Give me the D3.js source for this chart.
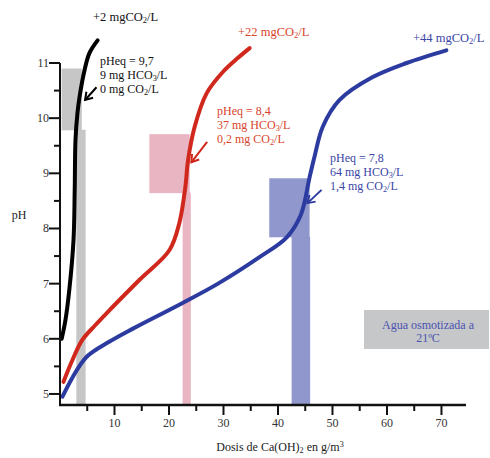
<!DOCTYPE html>
<html>
<head>
<meta charset="utf-8">
<script src="https://cdn.jsdelivr.net/npm/d3@7"></script>
<style>
  html, body { margin: 0; padding: 0; background: #fff; }
  svg { display: block; font-family: "Liberation Serif", "Times New Roman", serif; }
</style>
</head>
<body>
<div id="chart"></div>
<script>
// Titration curves: pH vs. Ca(OH)2 dose for osmotized water with added CO2
const xTicks = [10, 20, 30, 40, 50, 60, 70];
const xMinorTicks = [5, 15, 25, 35, 45, 55, 65];
const yTicks = [5, 6, 7, 8, 9, 10, 11];
const yMinorTicks = [5.5, 6.5, 7.5, 8.5, 9.5, 10.5];

// dose (g/m3), pH
const curve2 = [[0.3, 6.0], [1.0, 6.34], [1.7, 6.88], [2.48, 7.79], [2.7, 8.7], [2.84, 9.6],
  [3.2, 10.09], [3.58, 10.38], [4.5, 10.87], [5.4, 11.18], [6.9, 11.41]];
const curve22 = [[0.64, 5.22], [2.3, 5.62], [4.1, 5.98], [6.5, 6.25], [9.1, 6.52], [14.6, 7.07],
  [20.1, 7.61], [21.9, 8.1], [23.0, 8.75], [23.5, 9.24], [24.7, 9.84], [26.9, 10.45],
  [30.0, 10.85], [32.5, 11.08], [34.8, 11.27]];
const curve44 = [[0.45, 4.95], [2.3, 5.3], [4.86, 5.67], [9.1, 5.95], [13.3, 6.18], [22.5, 6.65],
  [29, 7.0], [36.6, 7.48], [41.6, 7.84], [44.2, 8.25], [45.8, 8.93], [46.7, 9.3], [48.2, 9.84],
  [51.3, 10.33], [57.3, 10.74], [63.6, 11.0], [70.9, 11.23]];

// equilibrium zones: [x0, x1, pHtop, pHbottom] for the box and [x0, x1] for the strip down to the axis
const zoneBoxes = [[0.3, 4.0, 10.9, 9.78], [16.4, 23.8, 9.71, 8.64], [38.4, 45.8, 8.91, 7.84]];
const zoneStrips = [[3.0, 4.7], [22.5, 24.0], [42.5, 45.9]];

// arrows: [xFrom, pHFrom, xTo, pHTo]
const arrows = [[6.7, 10.56, 4.6, 10.33], [27.0, 9.57, 24.1, 9.2], [48.0, 8.70, 45.4, 8.46]];

const eqLabels = [
  ["pHeq = 9,7", "9 mg HCO3/L", "0 mg CO2/L"],
  ["pHeq = 8,4", "37 mg HCO3/L", "0,2 mg CO2/L"],
  ["pHeq = 7,8", "64 mg HCO3/L", "1,4 mg CO2/L"]
];
const co2Labels = ["+2 mgCO2/L", "+22 mgCO2/L", "+44 mgCO2/L"];

const curveColors = ["#000000", "#d0281c", "#2c3b9f"];
const textColors = ["#111111", "#d8452c", "#3a45a6"];
const zoneColors = ["#c6c6c6", "#e9b5c2", "#9097cd"];

const W = 490, H = 458;
const svg = d3.select("#chart").append("svg").attr("width", W).attr("height", H);

const x = d3.scaleLinear().domain([0, 74.5]).range([60, 466]);
const y = d3.scaleLinear().domain([4.8, 11]).range([405, 63]);

// zones
zoneBoxes.forEach((b, i) => {
  svg.append("rect")
    .attr("x", x(b[0])).attr("y", y(b[2]))
    .attr("width", x(b[1]) - x(b[0])).attr("height", y(b[3]) - y(b[2]))
    .attr("fill", zoneColors[i]);
  const s = zoneStrips[i];
  svg.append("rect")
    .attr("x", x(s[0])).attr("y", y(b[3]) - 0.5)
    .attr("width", x(s[1]) - x(s[0])).attr("height", y(4.8) - y(b[3]) + 0.5)
    .attr("fill", zoneColors[i]);
});

// legend box
svg.append("rect").attr("x", 364).attr("y", 310).attr("width", 125).attr("height", 39).attr("fill", "#c6c7c9");
svg.append("text").attr("x", 428).attr("y", 329).attr("text-anchor", "middle")
  .attr("font-size", 12).attr("fill", "#4a52b0").text("Agua osmotizada a");
svg.append("text").attr("x", 428).attr("y", 342).attr("text-anchor", "middle")
  .attr("font-size", 12).attr("fill", "#4a52b0").text("21ºC");

// curves
const line = d3.line().x(d => x(d[0])).y(d => y(d[1])).curve(d3.curveCatmullRom.alpha(0.5));
[curve2, curve22, curve44].forEach((c, i) => {
  svg.append("path").attr("d", line(c)).attr("fill", "none")
    .attr("stroke", curveColors[i]).attr("stroke-width", 4).attr("stroke-linecap", "round");
});

// arrows
const defs = svg.append("defs");
curveColors.forEach((col, i) => {
  defs.append("marker").attr("id", "ah" + i)
    .attr("viewBox", "-1 -6 10 12").attr("refX", 7).attr("refY", 0)
    .attr("markerWidth", 10).attr("markerHeight", 12).attr("markerUnits", "userSpaceOnUse")
    .attr("orient", "auto")
    .append("path").attr("d", "M0,-4.5 L7,0 L0,4.5").attr("fill", "none")
    .attr("stroke", col).attr("stroke-width", 2);
});
arrows.forEach((a, i) => {
  svg.append("line")
    .attr("x1", x(a[0])).attr("y1", y(a[1])).attr("x2", x(a[2])).attr("y2", y(a[3]))
    .attr("stroke", curveColors[i]).attr("stroke-width", 2)
    .attr("marker-end", "url(#ah" + i + ")");
});

// text with chemical subscripts (digit after CO / (OH)) and the superscript 3 in m3
function chemText(sel, str, sub) {
  const parts = str.split(/(CO\d|\(OH\)\d|m\d$)/).filter(p => p);
  let pending = 0;
  parts.forEach(p => {
    const m = p.match(/^(CO|\(OH\)|m)(\d)$/);
    if (m) {
      const shift = m[1] === "m" ? -4 : sub;
      const base = sel.append("tspan").text(m[1]);
      if (pending) base.attr("dy", pending);
      sel.append("tspan").attr("font-size", "0.68em").attr("dy", shift).text(m[2]);
      pending = -shift;
    } else {
      const t = sel.append("tspan").text(p);
      if (pending) t.attr("dy", pending);
      pending = 0;
    }
  });
}

// equilibrium annotations
const eqPos = [[100, 65], [217, 115], [330, 162]];
eqLabels.forEach((lines, i) => {
  lines.forEach((t, j) => {
    const tx = svg.append("text").attr("x", eqPos[i][0]).attr("y", eqPos[i][1] + j * 14)
      .attr("font-size", 12).attr("fill", textColors[i]);
    chemText(tx, t, 1.5);
  });
});

// CO2 added labels at the top of each curve
const co2Pos = [[93, 21], [238, 36], [413, 42]];
co2Labels.forEach((t, i) => {
  const tx = svg.append("text").attr("x", co2Pos[i][0]).attr("y", co2Pos[i][1])
    .attr("font-size", 12.5).attr("fill", textColors[i]);
  chemText(tx, t, 2);
});

// axes
const axisColor = "#111";
svg.append("line").attr("x1", x(0)).attr("x2", x(0)).attr("y1", y(11)).attr("y2", y(4.8))
  .attr("stroke", axisColor).attr("stroke-width", 2);
svg.append("line").attr("x1", x(0) - 1).attr("x2", x(74.5)).attr("y1", y(4.8)).attr("y2", y(4.8))
  .attr("stroke", axisColor).attr("stroke-width", 2.5);

yTicks.forEach(v => {
  svg.append("line").attr("x1", x(0) - 11).attr("x2", x(0)).attr("y1", y(v)).attr("y2", y(v))
    .attr("stroke", axisColor).attr("stroke-width", 2);
  svg.append("text").attr("x", x(0) - 11).attr("y", y(v) + 4).attr("text-anchor", "end")
    .attr("font-size", 12).attr("fill", "#333").text(v);
});
yMinorTicks.forEach(v => {
  svg.append("line").attr("x1", x(0) - 6).attr("x2", x(0)).attr("y1", y(v)).attr("y2", y(v))
    .attr("stroke", axisColor).attr("stroke-width", 2);
});
xTicks.forEach(v => {
  svg.append("line").attr("x1", x(v)).attr("x2", x(v)).attr("y1", y(4.8)).attr("y2", y(4.8) + 10)
    .attr("stroke", axisColor).attr("stroke-width", 2);
  svg.append("text").attr("x", x(v)).attr("y", y(4.8) + 22).attr("text-anchor", "middle")
    .attr("font-size", 12).attr("fill", "#333").text(v);
});
xMinorTicks.forEach(v => {
  svg.append("line").attr("x1", x(v)).attr("x2", x(v)).attr("y1", y(4.8)).attr("y2", y(4.8) + 6)
    .attr("stroke", axisColor).attr("stroke-width", 2);
});

// axis titles
const xt = svg.append("text").attr("x", 280).attr("y", 451).attr("text-anchor", "middle")
  .attr("font-size", 12).attr("fill", "#222");
chemText(xt, "Dosis de Ca(OH)2 en g/m3", 2);
svg.append("text").attr("x", 19).attr("y", 219).attr("text-anchor", "middle")
  .attr("font-size", 12).attr("fill", "#222").text("pH");
</script>
</body>
</html>
